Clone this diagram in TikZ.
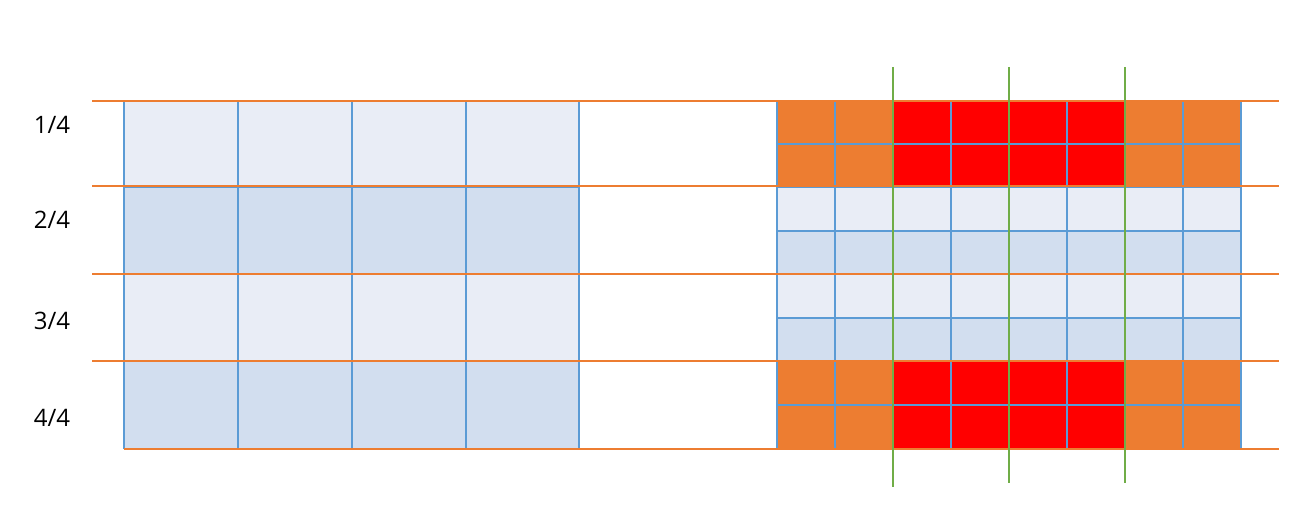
\documentclass[tikz,border=0pt]{standalone}
\usepackage{fontspec}
\setmainfont{Open Sans}
\definecolor{lightb}{HTML}{E9EDF6}
\definecolor{darkb}{HTML}{D2DEEF}
\definecolor{gridb}{HTML}{5B9BD5}
\definecolor{orng}{HTML}{ED7D31}
\definecolor{grn}{HTML}{70AD47}
\definecolor{redc}{HTML}{FF0000}
\begin{document}
\begin{tikzpicture}[x=1pt,y=-1pt,
  gridline/.style={draw=gridb,line width=1.3pt},
  orline/.style={draw=orng,line width=1.6pt},
  grline/.style={draw=grn,line width=1.6pt},
  lbl/.style={font=\fontsize{24}{28}\selectfont,anchor=center,inner sep=0pt}]
\useasboundingbox (0,0) rectangle (1308,518);
% left grid fills
\fill[lightb] (124,101) rectangle (579,187);
\fill[darkb] (124,187) rectangle (579,274);
\fill[lightb] (124,274) rectangle (579,361);
\fill[darkb] (124,361) rectangle (579,449);
% left grid lines
\foreach \x in {124,238,352,466,579} \draw[gridline] (\x,101) -- (\x,449);
\foreach \y in {101,187,274,361,449} \draw[gridline] (124,\y) -- (579,\y);
% right grid fills
\fill[orng] (777,101) rectangle (1241,187);
\fill[redc] (893,101) rectangle (1125,187);
\fill[lightb] (777,187) rectangle (1241,231);
\fill[darkb] (777,231) rectangle (1241,274);
\fill[lightb] (777,274) rectangle (1241,318);
\fill[darkb] (777,318) rectangle (1241,361);
\fill[orng] (777,361) rectangle (1241,449);
\fill[redc] (893,361) rectangle (1125,449);
% right grid lines
\foreach \x in {777,835,893,951,1009,1067,1125,1183,1241} \draw[gridline] (\x,101) -- (\x,449);
\foreach \y in {101,144,187,231,274,318,361,405,449} \draw[gridline] (777,\y) -- (1241,\y);
% orange horizontal lines
\foreach \y in {101,186,274,361} \draw[orline] (92,\y) -- (1279,\y);
\draw[orline] (124,449) -- (1279,449);
% green vertical lines
\draw[grline] (893,67) -- (893,487);
\draw[grline] (1009,67) -- (1009,483);
\draw[grline] (1125,67) -- (1125,483);
% labels
\node[lbl] (l1) at (52,125) {1/4};
\node[lbl] (l2) at (52,220) {2/4};
\node[lbl] (l3) at (52,321) {3/4};
\node[lbl] (l4) at (52,418) {4/4};
\end{tikzpicture}
\end{document}
